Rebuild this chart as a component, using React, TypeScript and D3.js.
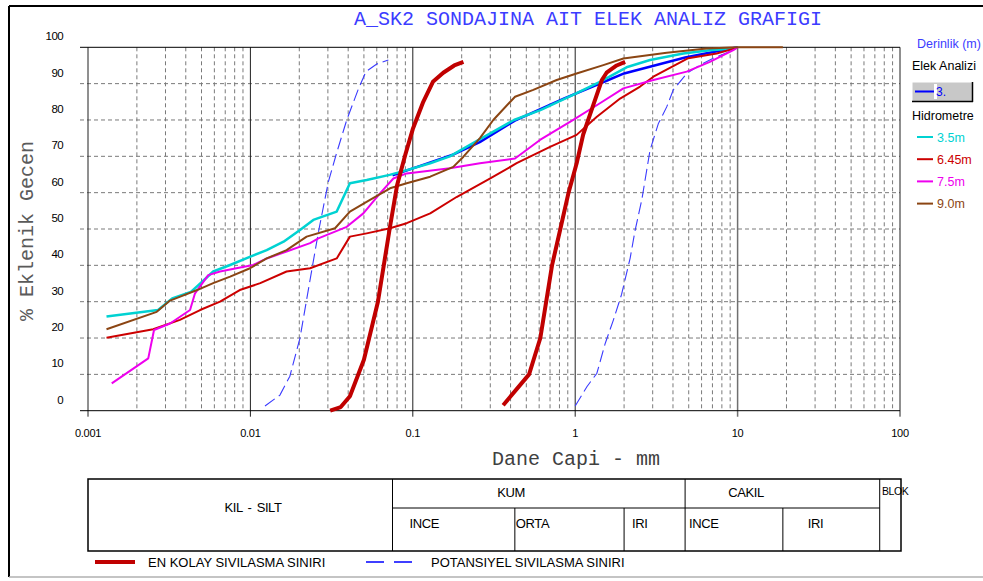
import React from "react";
import * as d3 from "d3";

// Grain-size distribution curves (diameter mm, % passing)
type Pt = [number, number];

const sieve3: Pt[] = [
  [0.075, 64.8], [0.11, 67.3], [0.18, 70.6], [0.26, 74], [0.425, 79.8],
  [0.85, 85.9], [1.6, 91], [2.0, 92.8], [4.75, 97.2], [10, 100],
];
const hyd35: Pt[] = [
  [0.0013, 25.9], [0.0027, 27.7], [0.0033, 30.9], [0.0043, 32.7], [0.0048, 34.6],
  [0.0059, 38.3], [0.0075, 40.1], [0.01, 42.4], [0.0126, 44.2], [0.016, 46.5],
  [0.0202, 49.7], [0.0244, 52.5], [0.034, 54.8], [0.041, 62.6], [0.052, 63.5],
  [0.072, 64.9], [0.092, 66.2], [0.128, 68.1], [0.169, 70], [0.25, 74.3],
  [0.42, 80], [0.61, 82.7], [0.97, 86.9], [1.42, 90.5], [2.07, 94.5],
  [2.89, 96.5], [4.63, 98.3], [6.75, 99.2], [9.41, 99.7], [10, 100],
];
const hyd645: Pt[] = [
  [0.0013, 20.1], [0.00252, 22.4], [0.00368, 25], [0.0049, 27.7], [0.0065, 30],
  [0.0086, 33.2], [0.0115, 35.1], [0.0167, 38.3], [0.0233, 39.2], [0.034, 41.9],
  [0.041, 47.9], [0.052, 48.8], [0.0724, 50.2], [0.0917, 51.6], [0.128, 54.3],
  [0.186, 58.8], [0.3, 63.9], [0.436, 68.1], [0.7, 72.6], [1.02, 75.9],
  [1.36, 80.9], [1.89, 85.9], [2.51, 89.2], [3.03, 91.9], [4.97, 97],
  [7.43, 98.3], [9.64, 99.7], [10, 100],
];
const hyd75: Pt[] = [
  [0.0014, 7.5], [0.00235, 14.4], [0.00255, 22.2], [0.0032, 24], [0.00425, 27.7],
  [0.00456, 32.3], [0.0055, 37.3], [0.0065, 38.3], [0.0082, 39.2], [0.0104, 40.1],
  [0.0126, 41.9], [0.0167, 43.8], [0.0233, 46.1], [0.0262, 47.4], [0.0392, 50.6],
  [0.0496, 54.3], [0.0628, 59.8], [0.0759, 63.9], [0.0917, 65.3], [0.116, 65.8],
  [0.169, 66.7], [0.259, 68.1], [0.426, 69.4], [0.607, 74.5], [0.973, 80],
  [1.42, 84.6], [1.98, 88.7], [3.03, 91], [4.86, 93.3], [6.75, 96],
  [9.41, 99.2], [10, 100],
];
const hyd90: Pt[] = [
  [0.0013, 22.4], [0.00265, 27.2], [0.0032, 30.3], [0.0037, 31.4], [0.0047, 33.2],
  [0.0059, 35.1], [0.0075, 36.9], [0.00995, 39.2], [0.0126, 41.9], [0.0167, 44.2],
  [0.0222, 47.9], [0.0332, 50.2], [0.041, 54.8], [0.0545, 58], [0.0724, 61.2],
  [0.0917, 62.6], [0.128, 64.4], [0.1775, 67.1], [0.205, 69.9], [0.259, 75],
  [0.313, 80], [0.426, 86.4], [0.552, 88.3], [0.769, 91], [1.02, 92.8],
  [1.49, 95.1], [1.98, 96.9], [3.66, 98.5], [6.45, 99.7], [10, 100], [19, 100],
];

// Liquefaction boundaries
const easyFine: Pt[] = [
  [0.031, 0], [0.036, 1], [0.041, 4], [0.05, 14], [0.061, 30], [0.072, 50],
  [0.08, 62], [0.09, 70.5], [0.1, 77.5], [0.116, 85], [0.133, 90.5],
  [0.154, 93], [0.18, 95], [0.205, 96],
];
const easyCoarse: Pt[] = [
  [0.36, 1.5], [0.52, 10], [0.61, 20], [0.72, 40], [0.81, 50], [0.91, 60],
  [1.02, 68], [1.12, 76], [1.29, 84], [1.46, 91], [1.56, 93], [1.8, 95], [2.03, 96],
];
const potFine: Pt[] = [
  [0.0123, 1.3], [0.0152, 4.3], [0.0175, 9.5], [0.0202, 20], [0.0233, 36],
  [0.0262, 49], [0.0302, 63], [0.034, 71], [0.0392, 80], [0.0462, 88.5],
  [0.0515, 93.3], [0.06, 95.4], [0.0707, 96.5],
];
const potCoarse: Pt[] = [
  [1.0, 1.3], [1.18, 6.6], [1.36, 10.3], [1.53, 18.5], [1.72, 25], [1.93, 32],
  [2.18, 42], [2.34, 49.7], [2.57, 58], [2.89, 71.7], [3.25, 79], [3.66, 83.6],
  [4.02, 88.3], [4.86, 92.8], [5.87, 95.1], [7.08, 97], [8.57, 98.5], [9.87, 100],
];

const xTicks = [0.001, 0.01, 0.1, 1, 10, 100];
const xTickLabels = ["0.001", "0.01", "0.1", "1", "10", "100"];
const yTicks = [0, 10, 20, 30, 40, 50, 60, 70, 80, 90, 100];

const hydroLabels = ["3.5m", "6.45m", "7.5m", "9.0m"];
const hydroColors = ["#00d2d2", "#cc0000", "#ee00ee", "#8b4513"];
const hydroSeries = [hyd35, hyd645, hyd75, hyd90];

// Soil classification limits (mm)
const soilBounds = [0.075, 0.425, 2, 4.75, 19, 75];

const W = 983;
const H = 581;

export default function App() {
  const x = d3.scaleLog().domain([0.001, 100]).range([88, 900]);
  const y = d3.scaleLinear().domain([0, 100]).range([410.7, 47.3]);
  const line = d3
    .line<Pt>()
    .x((d) => x(d[0]))
    .y((d) => y(d[1]));

  const minor: number[] = [];
  for (let e = -3; e < 2; e++) {
    for (let m = 2; m <= 9; m++) minor.push(m * Math.pow(10, e));
  }

  const sans = "'Liberation Sans', Arial, sans-serif";
  const mono = "'Liberation Mono', 'Courier New', monospace";

  const tTop = 479;
  const tMid = 508;
  const tBot = 551;

  return (
    <svg
      width={W}
      height={H}
      style={{ position: "absolute", left: 0, top: 0, background: "#fff" }}
    >
      {/* outer frame */}
      <line x1={9} y1={6} x2={W} y2={6} stroke="#000" strokeWidth={2} />
      <line x1={9} y1={6} x2={9} y2={577} stroke="#000" strokeWidth={2} />
      <line x1={9} y1={577} x2={W} y2={577} stroke="#b0b0b0" strokeWidth={1.5} />

      <text
        x={588}
        y={25}
        textAnchor="middle"
        fontFamily={mono}
        fontSize={20}
        fill="#3c3cff"
      >
        A_SK2 SONDAJINA AIT ELEK ANALIZ GRAFIGI
      </text>

      {/* grid */}
      {yTicks.slice(1, -1).map((v) => (
        <line
          key={"h" + v}
          x1={80}
          x2={900}
          y1={y(v)}
          y2={y(v)}
          stroke="#7a7a7a"
          strokeDasharray="4,3"
        />
      ))}
      {minor.map((v, i) => (
        <line
          key={"m" + i}
          x1={x(v)}
          x2={x(v)}
          y1={y(100)}
          y2={y(0)}
          stroke="#7a7a7a"
          strokeDasharray="4,3"
        />
      ))}
      {xTicks.map((v, i) => (
        <line
          key={"M" + i}
          x1={x(v)}
          x2={x(v)}
          y1={y(100)}
          y2={y(0) + 6}
          stroke={v === 10 ? "#707070" : "#202020"}
          strokeWidth={v === 10 ? 1.5 : 1}
        />
      ))}
      <line x1={80} x2={900} y1={y(100)} y2={y(100)} stroke="#000" />
      <line x1={80} x2={900} y1={y(0)} y2={y(0)} stroke="#000" />

      {/* tick labels */}
      {yTicks.map((v) => (
        <text
          key={"yl" + v}
          x={63}
          y={y(v) - 7}
          textAnchor="end"
          fontFamily={sans}
          fontSize={11.5}
          letterSpacing={-0.6}
          fill="#000"
        >
          {v}
        </text>
      ))}
      {xTicks.map((v, i) => (
        <text
          key={"xl" + i}
          x={x(v)}
          y={437}
          textAnchor="middle"
          fontFamily={sans}
          fontSize={11}
          letterSpacing={-0.3}
          fill="#000"
        >
          {xTickLabels[i]}
        </text>
      ))}

      <text
        x={576}
        y={465}
        textAnchor="middle"
        fontFamily={mono}
        fontSize={20}
        fill="#404040"
      >
        Dane Capi - mm
      </text>
      <text
        transform="translate(33,231) rotate(-90)"
        textAnchor="middle"
        fontFamily={mono}
        fontSize={20}
        fill="#5a5a5a"
      >
        % Eklenik Gecen
      </text>

      {/* liquefaction boundaries */}
      {[potFine, potCoarse].map((s, i) => (
        <path
          key={"pot" + i}
          d={line(s) ?? ""}
          fill="none"
          stroke="#3a3aff"
          strokeWidth={1.1}
          strokeDasharray="12,5"
        />
      ))}

      {/* sieve and hydrometer curves */}
      <path d={line(sieve3) ?? ""} fill="none" stroke="#0000ff" strokeWidth={2.5} />
      {hydroSeries.map((s, i) => (
        <path
          key={"hy" + i}
          d={line(s) ?? ""}
          fill="none"
          stroke={hydroColors[i]}
          strokeWidth={i === 0 ? 2.5 : 2}
          strokeLinejoin="round"
        />
      ))}

      {[easyFine, easyCoarse].map((s, i) => (
        <path
          key={"easy" + i}
          d={line(s) ?? ""}
          fill="none"
          stroke="#c00000"
          strokeWidth={4}
          strokeLinejoin="round"
        />
      ))}

      {/* right legend */}
      <text x={917} y={48} fontFamily={sans} fontSize={12.5} fill="#3c3cff">
        Derinlik (m)
      </text>
      <text x={912} y={70} fontFamily={sans} fontSize={12.5} fill="#000">
        Elek Analizi
      </text>
      <rect x={912} y={82} width={61} height={20} fill="#c8c8c8" />
      <line x1={912} y1={82} x2={973} y2={82} stroke="#fff" />
      <line x1={912} y1={82} x2={912} y2={102} stroke="#fff" />
      <line x1={912} y1={101.5} x2={973} y2={101.5} stroke="#000" strokeWidth={1.5} />
      <line x1={972.5} y1={82} x2={972.5} y2={102} stroke="#000" strokeWidth={1.5} />
      <rect x={934} y={84} width={3} height={15} fill="#fff" />
      <line x1={915} y1={91.5} x2={934} y2={91.5} stroke="#0000ff" strokeWidth={2} />
      <text x={936} y={96} fontFamily={sans} fontSize={12} fill="#0000ff">
        3.
      </text>
      <text x={912} y={120} fontFamily={sans} fontSize={12.5} fill="#000">
        Hidrometre
      </text>
      {hydroLabels.map((lab, i) => (
        <g key={"lg" + i}>
          <line
            x1={917}
            x2={933}
            y1={137 + i * 22.2}
            y2={137 + i * 22.2}
            stroke={hydroColors[i]}
            strokeWidth={2}
          />
          <text
            x={937}
            y={141.5 + i * 22.2}
            fontFamily={sans}
            fontSize={12.5}
            fill={hydroColors[i]}
          >
            {lab}
          </text>
        </g>
      ))}

      {/* soil classification table */}
      <g stroke="#000" strokeWidth={1} fill="none">
        <rect x={88} y={tTop} width={813} height={tBot - tTop} strokeWidth={1.5} />
        <line x1={x(soilBounds[0])} x2={x(soilBounds[0])} y1={tTop} y2={tBot} />
        <line x1={x(soilBounds[3])} x2={x(soilBounds[3])} y1={tTop} y2={tBot} />
        <line x1={x(soilBounds[5])} x2={x(soilBounds[5])} y1={tTop} y2={tBot} />
        <line x1={x(soilBounds[0])} x2={x(soilBounds[5])} y1={tMid} y2={tMid} />
        <line x1={x(soilBounds[1])} x2={x(soilBounds[1])} y1={tMid} y2={tBot} />
        <line x1={x(soilBounds[2])} x2={x(soilBounds[2])} y1={tMid} y2={tBot} />
        <line x1={x(soilBounds[4])} x2={x(soilBounds[4])} y1={tMid} y2={tBot} />
      </g>
      <g fontFamily={sans} fontSize={13} fill="#000" letterSpacing={-0.4}>
        <text x={253} y={512} textAnchor="middle" wordSpacing={2}>KIL - SILT</text>
        <text x={511} y={497} textAnchor="middle">KUM</text>
        <text x={746} y={497} textAnchor="middle">CAKIL</text>
        <text x={882} y={495} fontSize={10.5}>BLOK</text>
        <text x={x(soilBounds[0]) + 17} y={528}>INCE</text>
        <text x={x(soilBounds[1]) + 1} y={528}>ORTA</text>
        <text x={x(soilBounds[2]) + 8} y={528}>IRI</text>
        <text x={x(soilBounds[3]) + 4} y={528}>INCE</text>
        <text x={x(soilBounds[4]) + 25} y={528}>IRI</text>
      </g>

      {/* bottom legend */}
      <line x1={95} x2={135} y1={562} y2={562} stroke="#c00000" strokeWidth={4} />
      <text x={148} y={567} fontFamily={sans} fontSize={13} fill="#000">
        EN KOLAY SIVILASMA SINIRI
      </text>
      <line
        x1={366}
        x2={412}
        y1={562}
        y2={562}
        stroke="#0000ff"
        strokeWidth={1.3}
        strokeDasharray="18,10"
      />
      <text x={431} y={567} fontFamily={sans} fontSize={13} fill="#000">
        POTANSIYEL SIVILASMA SINIRI
      </text>
    </svg>
  );
}
